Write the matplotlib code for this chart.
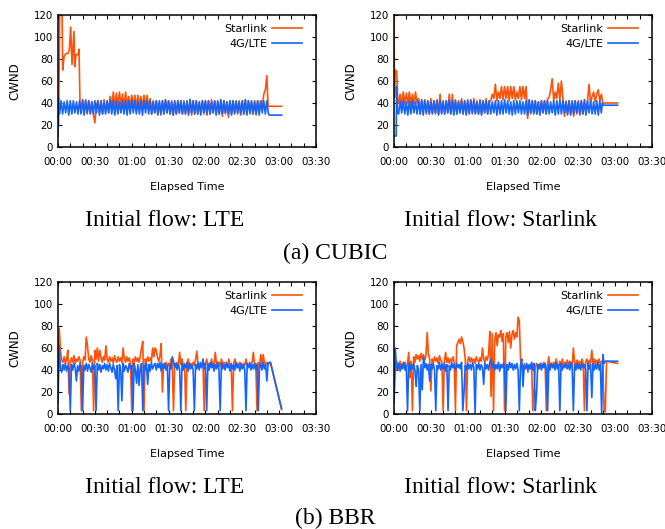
import numpy as np
import matplotlib
matplotlib.use("Agg")
import matplotlib.pyplot as plt
from matplotlib.ticker import FuncFormatter, MultipleLocator

# ---------------- DATA (time in minutes, CWND in packets) ----------------
# (a) CUBIC, initial flow: LTE
cub_lte_sl_head_t = [0.5, 1.4, 3.3, 3.8, 4.9, 6.5, 8.1, 9.2, 10.3, 11.4, 13.0, 13.6, 14.7, 16.3, 17.1, 17.9]
cub_lte_sl_head_v = [20, 125, 125, 70, 82, 85, 85, 88, 109, 75, 105, 73, 84, 84, 89, 40]
cub_lte_sl_body_start, cub_lte_sl_body_step = 18.75, 1.25
cub_lte_sl_body_v = [
    33, 42, 31, 43, 30, 42, 31, 41, 30, 22, 38, 42, 31, 42, 30, 43, 32, 42, 31,
    46, 36, 50, 37, 49, 36, 50, 38, 48, 35, 50, 37, 46, 36, 47, 37, 47, 36, 47, 37, 46, 36, 47, 37, 47, 36, 44,
    30, 42, 31, 42, 30, 41, 29, 42, 30, 43, 31, 42, 30, 42, 29, 41, 30, 42, 31, 42,
    30, 42, 30, 41, 31, 43, 29, 42, 30, 42, 30, 41, 31, 42, 30, 42, 29, 42, 30, 43,
    31, 42, 30, 41, 30, 42, 28, 42, 30, 41, 27, 42, 30, 42, 31, 41, 30, 42, 29, 42,
    30, 43, 31, 42, 30, 41, 30, 42, 29, 42, 31,
    42, 36, 48, 52]
cub_lte_sl_tail_t = [170.0, 171.0, 182.0]
cub_lte_sl_tail_v = [65, 37, 37]

cub_lte_lte_head_t = [0.0, 0.3, 0.7]
cub_lte_lte_head_v = [10, 45, 30]
cub_lte_lte_body_start, cub_lte_lte_body_step = 1.25, 1.25
cub_lte_lte_body_v = [
    30, 42, 30, 41, 31, 42, 29, 42, 30, 42, 31, 41, 30, 42, 30, 43, 29, 42, 31, 42,
    30, 41, 30, 42, 31, 42, 29, 42, 30, 41, 30, 42, 31, 43, 30, 42, 29, 42, 30, 41,
    31, 42, 30, 42, 29, 42, 30, 43, 31, 42, 30, 41, 30, 42, 29, 42, 31, 42, 30, 42,
    30, 41, 31, 42, 29, 42, 30, 42, 30, 43, 31, 42, 30, 41, 29, 42, 30, 42, 31, 42,
    30, 41, 30, 42, 29, 43, 31, 42, 30, 42, 30, 41, 29, 42, 31, 42, 30, 42, 30, 41,
    31, 42, 29, 42, 30, 43, 30, 42, 31, 41, 30, 42, 29, 42, 30, 42, 31, 41, 30, 42,
    30, 43, 29, 42, 31, 42, 30, 41, 30, 42, 29, 42, 31, 42, 30, 42, 30]
cub_lte_lte_tail_t = [172.0, 182.0]
cub_lte_lte_tail_v = [29, 29]

# (a) CUBIC, initial flow: Starlink
cub_sl_sl_head_t = [0.0, 0.4, 0.8, 2.2, 3.0]
cub_sl_sl_head_v = [125, 45, 70, 69, 42]
cub_sl_sl_body_start, cub_sl_sl_body_step = 3.75, 1.25
cub_sl_sl_body_v = [
    40, 48, 38, 50, 39, 49, 40, 50, 38, 48, 39, 50, 40, 44,
    30, 42, 31, 43, 30, 42, 30, 44, 31, 42, 30, 43, 30, 48, 31, 42, 30, 42, 31, 48,
    30, 48, 31, 43, 30, 42, 31, 44, 30, 42, 30, 43, 31, 42, 30, 44, 31, 42, 30, 43,
    30, 42, 31, 44, 30, 42,
    42, 48, 44, 57, 42, 50, 44, 55, 43, 55, 44, 55, 42, 55, 44, 55, 43, 50, 44, 55, 43, 55, 44, 55,
    26, 42, 30, 42, 31, 42, 30, 41, 30, 42, 31, 42, 30, 44,
    45, 52, 62, 42, 50, 44, 58, 43, 60, 44, 28,
    42, 29, 42, 30, 41, 28, 42, 30, 42, 29, 42, 30, 41, 30,
    42, 57, 40, 46, 50, 41, 48, 52, 42, 48]
cub_sl_sl_tail_t = [169.6, 170.2, 182.0]
cub_sl_sl_tail_v = [42, 40, 40]

cub_sl_lte_head_t = [0.2, 1.8, 2.1, 2.8]
cub_sl_lte_head_v = [10, 10, 55, 32]
cub_sl_lte_body_start, cub_sl_lte_body_step = 3.75, 1.25
cub_sl_lte_body_v = [
    30, 42, 31, 42, 30, 41, 29, 42, 30, 42, 31, 41, 30, 42, 30, 43, 29, 42, 31, 42,
    30, 41, 30, 42, 31, 42, 29, 42, 30, 41, 30, 42, 31, 43, 30, 42, 29, 42, 30, 41,
    31, 42, 30, 42, 29, 42, 30, 43, 31, 42, 30, 41, 30, 42, 29, 42, 31, 42, 30, 42,
    30, 41, 31, 42, 29, 42, 30, 42, 30, 43, 31, 42, 30, 41, 29, 42, 30, 42, 31, 42,
    30, 41, 30, 42, 29, 43, 31, 42, 30, 42, 30, 41, 29, 42, 31, 42, 30, 42, 30, 41,
    31, 42, 29, 42, 30, 43, 30, 42, 31, 41, 30, 42, 29, 42, 30, 42, 31, 41, 30, 42,
    30, 43, 29, 42, 31, 42, 30, 41, 30, 42, 29, 42, 31]
cub_sl_lte_tail_t = [169.6, 170.2, 182.0]
cub_sl_lte_tail_v = [40, 38, 38]

# (b) BBR, initial flow: LTE  (one sample per minute from 00:00)
bbr_lte_sl_v = [
    30, 78, 58, 49, 47, 52, 46, 50, 58, 18,
    48, 51, 47, 53, 46, 50, 48, 52, 49, 3,
    47, 52, 49, 70, 62, 50, 47, 53, 49, 3,
    58, 50, 60, 48, 58, 51, 47, 52, 49, 62,
    50, 47, 52, 48, 51, 46, 53, 49, 47, 52,
    48, 51, 47, 60, 50, 47, 52, 48, 51, 47,
    3, 50, 47, 52, 48, 51, 47, 53, 60, 66,
    3, 50, 47, 52, 48, 51, 48, 60, 52, 60,
    58, 51, 48, 53, 64, 20, 46, 44, 47, 43,
    46, 44, 50, 45, 3, 46, 43, 47, 44, 56,
    45, 50, 43, 46, 3, 45, 50, 44, 46, 43,
    47, 44, 50, 57, 45, 43, 47, 44, 46, 3,
    45, 50, 44, 46, 43, 50, 45, 44, 56, 46,
    44, 47, 43, 50, 45, 47, 44, 46, 43, 50,
    45, 44, 3, 46, 50, 43, 46, 44, 47, 45,
    43, 46, 44, 50, 45, 43, 46, 44, 47, 56,
    45, 46, 3, 47, 44, 54, 46, 54, 47, 45,
    47, 45, 46]
bbr_lte_sl_tail_t = [173.0, 182.0]
bbr_lte_sl_tail_v = [46, 4]

bbr_lte_lte_v = [
    10, 62, 42, 38, 45, 40, 46, 39, 44, 41,
    3, 45, 40, 46, 42, 30, 44, 39, 46, 42,
    3, 44, 40, 46, 39, 45, 42, 38, 46, 41,
    44, 3, 46, 40, 45, 38, 44, 41, 46, 40,
    45, 39, 46, 42, 38, 45, 40, 32, 44, 3,
    45, 41, 12, 46, 39, 44, 42, 38, 46, 41,
    44, 3, 46, 40, 28, 45, 26, 42, 46, 3,
    44, 40, 46, 27, 45, 39, 47, 41, 44, 46,
    40, 46, 42, 47, 39, 45, 41, 46, 40, 44,
    3, 45, 41, 52, 48, 42, 46, 40, 45, 41,
    3, 46, 40, 45, 42, 47, 39, 46, 41, 45,
    40, 3, 45, 41, 47, 40, 46, 42, 50, 41,
    46, 3, 45, 40, 47, 42, 46, 39, 45, 41,
    47, 40, 3, 46, 41, 45, 40, 47, 42, 45,
    39, 46, 41, 45, 40, 47, 42, 45, 39, 46,
    41, 45, 40, 3, 46, 42, 47, 40, 45, 41,
    46, 40, 45, 3, 42, 46, 40, 47, 41, 45,
    30, 46, 47]
bbr_lte_lte_tail_t = [173.0, 182.0]
bbr_lte_lte_tail_v = [47, 5]

# (b) BBR, initial flow: Starlink
bbr_sl_sl_v = [
    10, 45, 40, 47, 42, 48, 41, 46, 43, 47,
    42, 46, 56, 33, 48, 3, 52, 47, 54, 50,
    53, 48, 55, 50, 54, 49, 53, 74, 55, 50,
    21, 50, 47, 52, 48, 51, 46, 53, 49, 47,
    3, 48, 56, 47, 51, 46, 50, 48, 52, 47,
    3, 62, 65, 68, 64, 70, 66, 60, 50, 3,
    49, 52, 47, 51, 48, 50, 46, 52, 49, 47,
    51, 48, 60, 50, 47, 52, 49, 55, 75, 16,
    73, 3, 68, 74, 62, 72, 70, 76, 66, 73,
    3, 70, 74, 65, 75, 60, 72, 76, 68, 74,
    70, 88, 85, 50, 44, 40, 46, 42, 45, 38,
    44, 41, 46, 3, 22, 43, 46, 41, 45, 42,
    46, 43, 47, 44, 3, 45, 52, 43, 46, 44,
    47, 43, 50, 45, 42, 48, 44, 50, 43, 47,
    45, 49, 44, 48, 46, 43, 60, 47, 44, 49,
    45, 48, 44, 50, 46, 3, 47, 50, 45, 49,
    46, 58, 47, 50, 44, 49, 46, 50, 45, 48,
    47, 3, 2]
bbr_sl_sl_tail_t = [173.0, 182.0]
bbr_sl_sl_tail_v = [48, 46]

bbr_sl_lte_v = [
    10, 60, 44, 40, 46, 39, 45, 41, 47, 40,
    44, 3, 46, 39, 45, 41, 46, 40, 25, 44,
    40, 3, 45, 22, 51, 42, 46, 40, 45, 30,
    45, 41, 46, 40, 3, 44, 41, 47, 40, 45,
    41, 46, 39, 45, 3, 44, 40, 47, 42, 45,
    40, 46, 42, 45, 41, 47, 3, 20, 44, 40,
    46, 41, 45, 40, 47, 42, 0, 45, 41, 46,
    40, 45, 42, 27, 46, 41, 45, 40, 47, 50,
    42, 46, 40, 45, 41, 47, 39, 45, 42, 46,
    41, 3, 45, 40, 47, 42, 46, 40, 45, 41,
    46, 40, 3, 45, 50, 25, 44, 41, 46, 40,
    45, 41, 47, 40, 46, 3, 18, 45, 41, 46,
    40, 45, 42, 46, 41, 3, 45, 40, 46, 42,
    45, 40, 47, 41, 45, 3, 46, 40, 45, 42,
    46, 41, 45, 40, 47, 42, 3, 45, 40, 46,
    41, 45, 40, 46, 42, 45, 40, 3, 46, 41,
    45, 15, 46, 40, 45, 41, 47, 40, 45, 0,
    54, 46, 48]
bbr_sl_lte_tail_t = [182.0]
bbr_sl_lte_tail_v = [48]

series_labels = ["Starlink", "4G/LTE"]
x_ticks_min = [0, 30, 60, 90, 120, 150, 180, 210]
y_ticks = [0, 20, 40, 60, 80, 100, 120]
captions = ["Initial flow: LTE", "Initial flow: Starlink"]
group_titles = ["(a) CUBIC", "(b) BBR"]

# ---------------- STYLE ----------------
C_SL = "#ff5208"
C_LTE = "#1464ff"
LW = 1.2


def build(head_t, head_v, start, step, body_v, tail_t, tail_v):
    body_t = start + step * np.arange(len(body_v))
    t = np.concatenate([np.asarray(head_t, float), body_t, np.asarray(tail_t, float)])
    v = np.concatenate([np.asarray(head_v, float), np.asarray(body_v, float), np.asarray(tail_v, float)])
    return t, v


def hhmm(m, _pos):
    m = int(round(m))
    return f"{m // 60:02d}:{m % 60:02d}"


fig = plt.figure(figsize=(6.65, 5.29), dpi=100)
W, H = 665.0, 529.0


def make_axes(left_px, top_px):
    return fig.add_axes([left_px / W, 1 - (top_px + 132) / H, 258 / W, 132 / H])


def style(ax):
    ax.set_xlim(0, 210)
    ax.set_ylim(0, 120)
    ax.set_xticks(x_ticks_min)
    ax.xaxis.set_major_formatter(FuncFormatter(hhmm))
    ax.xaxis.set_minor_locator(MultipleLocator(10))
    ax.set_yticks(y_ticks)
    for s in ax.spines.values():
        s.set_linewidth(1.1)
    ax.tick_params(which="both", direction="in", top=True, right=True,
                   length=3.0, width=0.8, labelsize=7.4, colors="black")
    ax.tick_params(axis="x", which="major", pad=7.0)
    ax.tick_params(axis="y", which="major", pad=3.5)
    ax.set_xlabel("Elapsed Time", fontsize=8)
    ax.set_ylabel("CWND", fontsize=8.5)
    ax.xaxis.set_label_coords(0.5, -0.303)
    ax.yaxis.set_label_coords(-0.167, 0.5)
    ax.xaxis.label.set_va("center")
    ax.yaxis.label.set_va("center")
    leg = ax.legend(loc="upper right", bbox_to_anchor=(0.946, 0.935), markerfirst=False,
                    frameon=False, fontsize=8, handlelength=2.7, handletextpad=0.45,
                    borderpad=0, borderaxespad=0, labelspacing=0.5)
    for t in leg.get_texts():
        t.set_ha("right")


panels = [
    (58, 15,
     build(cub_lte_sl_head_t, cub_lte_sl_head_v, cub_lte_sl_body_start, cub_lte_sl_body_step,
           cub_lte_sl_body_v, cub_lte_sl_tail_t, cub_lte_sl_tail_v),
     build(cub_lte_lte_head_t, cub_lte_lte_head_v, cub_lte_lte_body_start, cub_lte_lte_body_step,
           cub_lte_lte_body_v, cub_lte_lte_tail_t, cub_lte_lte_tail_v)),
    (394, 15,
     build(cub_sl_sl_head_t, cub_sl_sl_head_v, cub_sl_sl_body_start, cub_sl_sl_body_step,
           cub_sl_sl_body_v, cub_sl_sl_tail_t, cub_sl_sl_tail_v),
     build(cub_sl_lte_head_t, cub_sl_lte_head_v, cub_sl_lte_body_start, cub_sl_lte_body_step,
           cub_sl_lte_body_v, cub_sl_lte_tail_t, cub_sl_lte_tail_v)),
    (58, 282,
     build([], [], 0.0, 1.0, bbr_lte_sl_v, bbr_lte_sl_tail_t, bbr_lte_sl_tail_v),
     build([], [], 0.0, 1.0, bbr_lte_lte_v, bbr_lte_lte_tail_t, bbr_lte_lte_tail_v)),
    (394, 282,
     build([], [], 0.0, 1.0, bbr_sl_sl_v, bbr_sl_sl_tail_t, bbr_sl_sl_tail_v),
     build([], [], 0.0, 1.0, bbr_sl_lte_v, bbr_sl_lte_tail_t, bbr_sl_lte_tail_v)),
]

for left, top, (t_sl, v_sl), (t_lte, v_lte) in panels:
    ax = make_axes(left, top)
    ax.plot(t_sl, v_sl, color=C_SL, lw=LW, label=series_labels[0], clip_on=True)
    ax.plot(t_lte, v_lte, color=C_LTE, lw=LW, label=series_labels[1], clip_on=True)
    style(ax)

serif = ["Liberation Serif", "DejaVu Serif"]
cap_x = [165 / W, 501 / W]
row_base = [225.5, 492.7]
title_base = [259.0, 524.5]
for r in range(2):
    for c in range(2):
        fig.text(cap_x[c], 1 - row_base[r] / H, captions[c], ha="center", va="baseline",
                 fontsize=17, family=serif)
    fig.text(335.5 / W, 1 - title_base[r] / H, group_titles[r], ha="center", va="baseline",
             fontsize=17, family=serif)

fig.savefig("out.png", dpi=100)
